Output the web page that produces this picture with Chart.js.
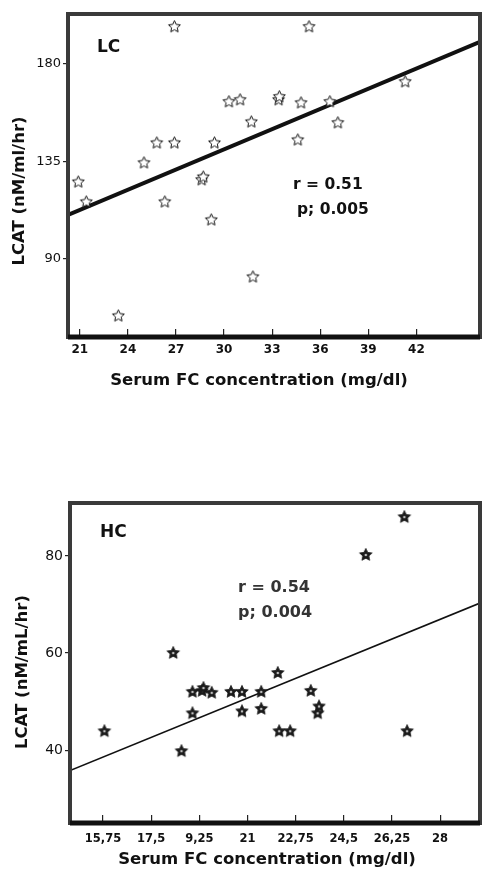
<!DOCTYPE html>
<html>
<head>
<meta charset="utf-8">
<script src="https://cdn.jsdelivr.net/npm/chart.js@4/dist/chart.umd.min.js"></script>
<style>
  body { margin: 0; background: #fff; width: 487px; height: 871px; overflow: hidden; position: relative; }
  .box { position: absolute; left: 0; width: 487px; }
</style>
</head>
<body>
<div class="box" style="top:0;height:420px"><canvas id="lcChart"></canvas></div>
<div class="box" style="top:440px;height:431px"><canvas id="hcChart"></canvas></div>
<script>
// LC group: serum FC (mg/dl) vs LCAT (nM/ml/hr)
const lcFC   = [26.9, 35.3, 20.9, 21.4, 25.0, 25.8, 26.9, 29.4, 28.6, 28.7, 26.3, 29.2, 31.8, 23.4,
                30.3, 31.0, 31.7, 33.4, 33.45, 34.8, 34.6, 36.6, 37.1, 41.3];
const lcLCAT = [197.1, 197.1, 125.5, 116.3, 134.3, 143.5, 143.5, 143.5, 126.5, 127.8, 116.3, 108.0, 81.7, 63.7,
                162.5, 163.4, 153.2, 163.4, 164.8, 162.0, 144.9, 162.5, 152.8, 171.7];
const lcFitFC   = [20.26, 45.97];
const lcFitLCAT = [110.3, 190.2];
const lcXTicks = [21, 24, 27, 30, 33, 36, 39, 42];
const lcYTicks = [90, 135, 180];

// HC group
const hcFC   = [26.7, 25.3, 18.3, 22.1, 15.8, 18.6, 19.0, 19.0, 19.35, 19.4, 19.7, 20.4, 20.8, 20.8,
                21.5, 21.5, 22.15, 22.55, 23.3, 23.55, 23.6, 26.8];
const hcLCAT = [88.0, 80.2, 60.0, 55.9, 43.9, 39.8, 47.6, 52.0, 52.2, 52.8, 51.8, 52.0, 52.0, 48.0,
                52.0, 48.5, 43.9, 43.9, 52.2, 47.6, 49.0, 43.9];
const hcFitFC   = [14.55, 29.45];
const hcFitLCAT = [35.8, 70.3];
const hcXTicks = [15.75, 17.5, 19.25, 21, 22.75, 24.5, 26.25, 28];
const hcXLabels = ['15,75', '17,5', '9,25', '21', '22,75', '24,5', '26,25', '28'];
const hcYTicks = [40, 60, 80];

function makeStar(r, filled) {
    const c = document.createElement('canvas');
    const s = Math.ceil(2 * r + 4);
    c.width = s; c.height = s;
    const g = c.getContext('2d');
    g.translate(s / 2, s / 2);
    g.beginPath();
    for (let i = 0; i < 10; i++) {
        const rad = i % 2 === 0 ? r : r * 0.48;
        const a = -Math.PI / 2 + i * Math.PI / 5;
        g.lineTo(rad * Math.cos(a), rad * Math.sin(a));
    }
    g.closePath();
    if (filled) {
        g.fillStyle = '#1a1a1a';
        g.fill();
        g.lineWidth = 0.8;
        g.strokeStyle = '#1a1a1a';
        g.stroke();
        g.fillStyle = '#bdbdbd';
        g.beginPath();
        g.arc(0, 0, 1.3, 0, Math.PI * 2);
        g.fill();
    } else {
        g.fillStyle = '#fff';
        g.fill();
        g.lineWidth = 1;
        g.strokeStyle = '#111';
        g.stroke();
    }
    return c;
}

// frame + titles + r/p notes
const decor = {
    id: 'decor',
    afterDraw(chart, args, o) {
        const {ctx, chartArea: a} = chart;
        ctx.save();
        ctx.strokeStyle = '#3a3a3a';
        ctx.lineWidth = o.frame;
        ctx.strokeRect(a.left, a.top, a.right - a.left, a.bottom - a.top);
        ctx.strokeStyle = '#111';
        ctx.lineWidth = o.frame + 1;
        ctx.beginPath();
        ctx.moveTo(a.left, a.bottom);
        ctx.lineTo(a.right, a.bottom);
        ctx.stroke();

        ctx.fillStyle = '#111';
        ctx.textBaseline = 'middle';
        ctx.font = 'bold 16.5px "DejaVu Sans"';
        ctx.textAlign = 'center';
        ctx.fillText(o.xTitle.text, o.xTitle.x, o.xTitle.y);
        ctx.save();
        ctx.translate(o.yTitle.x, o.yTitle.y);
        ctx.rotate(-Math.PI / 2);
        ctx.fillText(o.yTitle.text, 0, 0);
        ctx.restore();

        ctx.textAlign = 'left';
        o.notes.forEach(n => {
            ctx.font = n.font;
            ctx.fillStyle = n.color || '#111';
            ctx.fillText(n.text, n.x, n.y);
        });
        ctx.restore();
    }
};

function buildChart(id, cfg) {
    const ctx = document.getElementById(id).getContext('2d');
    return new Chart(ctx, {
        type: 'scatter',
        data: {
            datasets: [{
                data: cfg.xs.map((x, i) => ({x: x, y: cfg.ys[i]})),
                pointStyle: cfg.star,
                pointRadius: 6
            }, {
                type: 'line',
                data: cfg.fitX.map((x, i) => ({x: x, y: cfg.fitY[i]})),
                showLine: true,
                borderColor: '#111',
                borderWidth: cfg.fitWidth,
                pointRadius: 0,
                fill: false
            }]
        },
        options: {
            responsive: true,
            maintainAspectRatio: false,
            animation: false,
            layout: { padding: { top: cfg.padTop, right: 4, left: 0, bottom: 0 } },
            plugins: {
                legend: { display: false },
                tooltip: { enabled: false },
                decor: cfg.decor
            },
            scales: {
                x: {
                    type: 'linear',
                    min: cfg.xMin, max: cfg.xMax,
                    border: { display: false },
                    grid: { drawOnChartArea: false, tickLength: -8, color: '#222', lineWidth: 1.2 },
                    afterBuildTicks: s => { s.ticks = cfg.xTicks.map(v => ({value: v})); },
                    afterFit: s => { s.height = cfg.xHeight; },
                    ticks: {
                        autoSkip: false,
                        maxRotation: 0,
                        padding: cfg.xPad,
                        color: '#111',
                        font: { family: '"DejaVu Sans"', size: cfg.xFont, weight: 'bold' },
                        callback: (v, i) => cfg.xLabels ? cfg.xLabels[i] : String(v)
                    }
                },
                y: {
                    min: cfg.yMin, max: cfg.yMax,
                    border: { display: false },
                    grid: { drawOnChartArea: false, tickLength: 5, color: '#222', lineWidth: 1.2 },
                    afterBuildTicks: s => { s.ticks = cfg.yTicks.map(v => ({value: v})); },
                    afterFit: s => { s.width = cfg.yWidth; },
                    ticks: {
                        padding: 2,
                        color: '#111',
                        font: { family: '"DejaVu Sans"', size: cfg.yFont }
                    }
                }
            }
        },
        plugins: [decor]
    });
}

buildChart('lcChart', {
    xs: lcFC, ys: lcLCAT, fitX: lcFitFC, fitY: lcFitLCAT, fitWidth: 4,
    star: makeStar(6.2, false),
    xMin: 20.26, xMax: 45.97, yMin: 54, yMax: 203,
    xTicks: lcXTicks, yTicks: lcYTicks,
    padTop: 14, xHeight: 83, yWidth: 68, xPad: 14, xFont: 12, yFont: 13,
    decor: {
        frame: 4,
        xTitle: { text: 'Serum FC concentration (mg/dl)', x: 259, y: 381 },
        yTitle: { text: 'LCAT (nM/ml/hr)', x: 20, y: 191 },
        notes: [
            { text: 'LC', x: 97, y: 48, font: 'bold 17px "DejaVu Sans"' },
            { text: 'r = 0.51', x: 293, y: 185, font: 'bold 15.5px "DejaVu Sans"' },
            { text: 'p; 0.005', x: 297, y: 210, font: 'bold 15.5px "DejaVu Sans"' }
        ]
    }
});

buildChart('hcChart', {
    xs: hcFC, ys: hcLCAT, fitX: hcFitFC, fitY: hcFitLCAT, fitWidth: 1.6,
    star: makeStar(6.6, true),
    xMin: 14.55, xMax: 29.45, yMin: 25, yMax: 90.9,
    xTicks: hcXTicks, xLabels: hcXLabels, yTicks: hcYTicks,
    padTop: 63, xHeight: 48, yWidth: 70, xPad: 17, xFont: 11.5, yFont: 14,
    decor: {
        frame: 4,
        xTitle: { text: 'Serum FC concentration (mg/dl)', x: 267, y: 420 },
        yTitle: { text: 'LCAT (nM/mL/hr)', x: 23, y: 232 },
        notes: [
            { text: 'HC', x: 100, y: 93, font: 'bold 17px "DejaVu Sans"' },
            { text: 'r = 0.54', x: 238, y: 148, font: 'bold 16px "DejaVu Sans"', color: '#333' },
            { text: 'p; 0.004', x: 238, y: 173, font: 'bold 16px "DejaVu Sans"', color: '#333' }
        ]
    }
});
</script>
</body>
</html>
